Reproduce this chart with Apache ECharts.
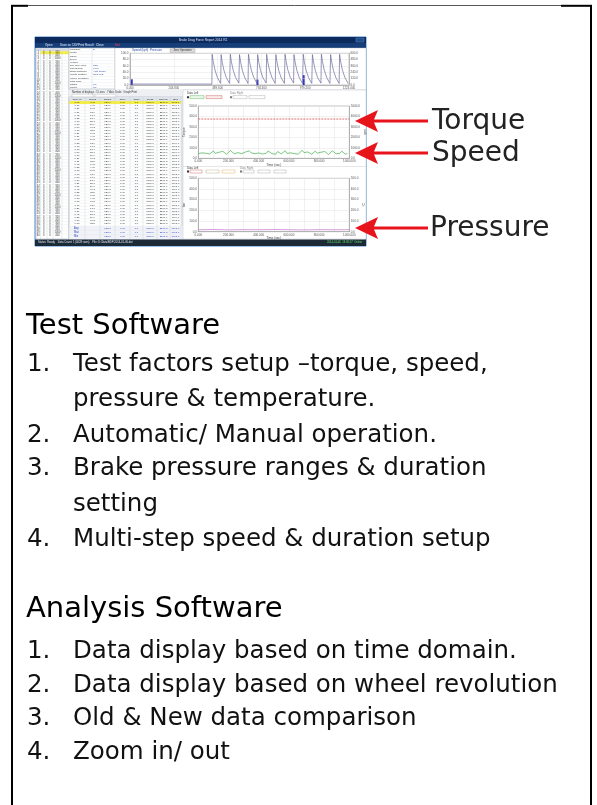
<!DOCTYPE html>
<html><head><meta charset="utf-8">
<script src="https://cdn.jsdelivr.net/npm/echarts@6/dist/echarts.min.js"></script>
<style>html,body{margin:0;padding:0;background:#fff}#c{width:597px;height:805px}</style>
</head><body><div id="c"></div>
<script>
// ---------------- DATA ----------------
// top mini chart: speed trace (sawtooth) [time %, value]
const sawTooth = [
[0,3],[37.4,3],
[37.5,97],[38.0,74],[38.8,47],[39.9,24],[41.4,5],
[41.6,96],[42.1,72],[42.9,46],[44.0,23],[45.5,5],
[45.8,97],[46.3,73],[47.1,47],[48.2,24],[49.7,6],
[50.0,96],[50.5,73],[51.3,46],[52.4,23],[53.9,5],
[54.1,97],[54.6,74],[55.4,47],[56.5,24],[58.0,5],
[58.3,96],[58.8,72],[59.6,46],[60.7,23],[62.2,6],
[62.4,97],[62.9,73],[63.7,47],[64.8,24],[66.3,5],
[66.6,96],[67.1,73],[67.9,46],[69.0,23],[70.5,5],
[70.8,97],[71.3,74],[72.1,47],[73.2,24],[74.7,6],
[74.9,96],[75.4,72],[76.2,46],[77.3,23],[78.8,5],
[79.1,97],[79.6,73],[80.4,47],[81.5,24],[83.0,5],
[83.3,96],[83.8,73],[84.6,46],[85.7,23],[87.2,6],
[87.4,97],[87.9,74],[88.7,47],[89.8,24],[91.3,5],
[91.6,96],[92.1,72],[92.9,46],[94.0,23],[95.5,5],
[95.7,97],[96.2,73],[97.0,47],[98.1,24],[99.6,5]
];
// top mini chart: pressure pulses [time %, value]
const pressureBars = [[0.8,18],[58.2,17],[79.3,31]];
// torque / speed chart (time 0..1000 s)
const torqueVals = [376,375,376,375,376,375,376,375,376,375,376];   // every 100 s
const speedVals = [45,38,52,33,48,60,41,54,70,47,36,58,43,66,52,39,50,75,56,43,
34,54,68,45,40,60,48,72,52,37,44,63,51,57,41,31,48,70,59,45,
53,39,64,50,42,57,73,47,35,52,67,44,56,40,48,77,54,43,61,46,
38,55,69,49,41,58,45,65,52,36,50,72,57,43,60,48,68,53,39,46];  // every 12.5 s
// pressure chart
const pressureVals = [18,20,17,19,18,20,18,17,19,18,19];            // every 100 s
// texts
const arrowLabels = ['Torque','Speed','Pressure'];
const heading1 = 'Test Software';
const heading2 = 'Analysis Software';
const list1 = [['1.','Test factors setup –torque, speed,'],['','pressure & temperature.'],['2.','Automatic/ Manual operation.'],['3.','Brake pressure ranges & duration'],['','setting'],['4.','Multi-step speed & duration setup']];
const list2 = [['1.','Data display based on time domain.'],['2.','Data display based on wheel revolution'],['3.','Old & New data comparison'],['4.','Zoom in/ out']];

// ---------------- GRAPHICS ----------------
const el = [];
function R(x,y,w,h,fill,stroke,lw,z){el.push({type:'rect',silent:true,z:z===undefined?-2:z,shape:{x:x,y:y,width:w,height:h},style:{fill:fill||'none',stroke:stroke||'none',lineWidth:lw||0}});}
function L(x1,y1,x2,y2,c,w,z){el.push({type:'line',silent:true,z:z===undefined?-1:z,shape:{x1:x1,y1:y1,x2:x2,y2:y2},style:{stroke:c,lineWidth:w}});}
function T(x,y,s,size,c,al,fam,z){el.push({type:'text',silent:true,z:z===undefined?-1:z,x:x,y:y,style:{text:s,fill:c,fontSize:size,fontFamily:fam||'Liberation Sans',textAlign:al||'left',textVerticalAlign:'middle',align:al||'left',verticalAlign:'middle'}});}

// outer page frame
L(12,5,12,805,'#000',2,5);
L(591,5,591,805,'#000',2,5);
L(11,5.8,28,5.8,'#000',2,5);
L(28,5.5,561,5.5,'#555',1,5);
L(561,5.8,592,5.8,'#000',2,5);

// window
R(35,37,331,209,'#f3f5f8','#4a8ad0',1,-3);
R(35,37,331,6,'#0c2a5c',null,0,-2);
T(203,40,'Brake Drag Force Report 2014 R2',3.2,'#d6e4ff','center');
R(356,38,8,4,'#1d4c8c','#6a9ad0',0.4,-1);
R(35,43,331,5,'#163f7a',null,0,-2);
[['Open',45],['Save as CSV',60],['Print Result',78],['Close',96]].forEach(m=>T(m[1],45.5,m[0],3,'#e8eefc'));
T(115,45.5,'Exit',3,'#e04040');

// left narrow table
R(36,48,33,191,'#ffffff','#9aa4b0',0.5,-2);
R(36,48,33,3,'#d6dce6',null,0,-2);
R(40.5,51.2,28.5,3,'#f4ee3a',null,0,-2);
const ltCols=[40.5,47,53,62];
ltCols.forEach(x=>L(x,48,x,239,'#c8ccd2',0.4));
const ltVals=['350','400','1000','350','400','350','400','300','400','350','1000','400'];
for(let i=0;i<60;i++){
  const y=51+i*3.1;
  L(36,y,69,y,'#dde0e4',0.3);
  const yc=y+1.55;
  T(38.2,yc,String(i+1),2.6,'#333','center');
  T(43.7,yc,'0',2.6,'#333','center');
  T(50,yc,'0',2.6,'#333','center');
  T(57.5,yc,ltVals[i%ltVals.length],2.6,'#333','center');
}

// info panel
R(69,48,46,41,'#ffffff','#9aa4b0',0.5,-2);
L(92,48,92,89,'#c8ccd2',0.4);
const infoL=['Schedule','Model','Name','Driver','Vehicle','Tire Size (mm)','Speed(kph)','Brake Distance','Mount Position','Wheel Condition','Start Time','Status','Count'];
const infoR=['B','','','','','32.5','0.0/0','Auto Single','Rear Left','','','0/0','0/0'];
for(let i=0;i<13;i++){const y=48+i*3.15;L(69,y,115,y,'#dde0e4',0.3);T(70,y+1.6,infoL[i],2.5,'#333');T(93,y+1.6,infoR[i],2.5,'#2a46a8');}

// top chart panel
R(115,48,251,42,'#ffffff','#b0b8c2',0.4,-2);
T(132,50.5,'Speed (kph)',3,'#2c4aa8');
T(150,50.5,'Pressure',3,'#2c4aa8');
R(170,48.8,25,3.6,'#dedede','#9a9a9a',0.4,-1);
T(182.5,50.6,'Zero Operation',2.7,'#333','center');

// middle bar
R(69,90,114,7,'#eef0f3',null,0,-2);
T(72,92.2,'Number of displays : 5 Lines   Y Axis Scale   Graph Print',2.6,'#333');
R(72,94.3,21,2.6,'#fff','#999',0.3,-1);
R(95,94.3,21,2.6,'#fff','#999',0.3,-1);

// big table
R(69,97,114,142,'#ffffff','#9aa4b0',0.5,-2);
R(69,97,114,4,'#dfe3ea',null,0,-2);
R(69,101,112,3.1,'#f6f03a',null,0,-2);
R(181,97,2,129,'#e4e6ea',null,0,-2);
R(69,226,114,13,'#f1f3f9',null,0,-2);
const btCols=[69,85,100,115,130,143,157,170,181];
btCols.forEach(x=>L(x,97,x,239,'#c8ccd2',0.4));
const btHead=['Time (s)','Speed','Torque','RPM','Temp','Press','Dist (m)','Stop','Force'];
for(let c=0;c<8;c++)T((btCols[c]+btCols[c+1])/2,99,btHead[c],2.5,'#222','center');
const bA=['0.00','0.10','0.21','0.31','0.42','0.52','0.63','0.73'];
const bB=['0.07','4.34','8.61','12.9','17.1','21.4','25.7','29.9','34.2','38.5'];
const bC=['126.6','127.1','126.9','127.4','126.8','127.0','127.3','126.7'];
const bG=['2240.8','2240.6','2240.9','2240.7','2240.8'];
const bH=['6093.7','6094.1','6093.5','6093.9','6094.0','6093.6'];
for(let r=0;r<40;r++){
  const y=101+r*3.1;L(69,y,181,y,'#dde0e4',0.3);
  const yc=y+1.55;
  const row=[bA[r%8],bB[r%10],bC[r%8],'0.00','0.0','7360.0',bG[r%5],bH[r%6]];
  for(let c=0;c<8;c++)T((btCols[c]+btCols[c+1])/2,yc,row[c],2.5,'#333','center');
}
['Avg','Max','Min'].forEach((s,i)=>{const yc=228+i*4;L(69,226+i*4.3,181,226+i*4.3,'#dde0e4',0.3);T(74,yc,s,2.6,'#2a46c0');
  ['','125.8','0.00','0.0','7360.0','2240.8','6093.7'].forEach((v,c)=>T((btCols[c+1]+btCols[c+2])/2,yc,v,2.5,'#2a46c0','center'));});

// right panel
R(183,90,183,149,'#ffffff','#b0b8c2',0.4,-2);
T(187,93.2,'Data Left',2.8,'#333');
R(187,96.2,2,2,'#333',null,0,-1);
R(190,95.6,14,3,'#eaf7ea','#48a848',0.4,-1);
R(206,95.6,16,3,'#fbeaea','#c84848',0.4,-1);
T(230,93.2,'Data Right',2.8,'#888');
R(230,96.2,2,2,'#777',null,0,-1);
R(233,95.6,14,3,'#fff','#999',0.4,-1);
R(249,95.6,16,3,'#fff','#999',0.4,-1);
L(183,166.5,366,166.5,'#c8ccd2',0.5);
T(187,168.2,'Data Left',2.8,'#333');
R(187,170.6,2,2,'#333',null,0,-1);
R(190,170,12,3,'#fff','#c84848',0.4,-1);
R(206,170,13,3,'#fff','#a8a070',0.4,-1);
R(222,170,13,3,'#fff','#e0a040',0.4,-1);
T(240,168.2,'Data Right',2.8,'#888');
R(240,170.6,2,2,'#777',null,0,-1);
R(243,170,11,3,'#fff','#999',0.4,-1);
R(258,170,12,3,'#fff','#999',0.4,-1);
R(274,170,12,3,'#fff','#999',0.4,-1);

// status bar
R(35,239.5,331,6.5,'#1c2a38',null,0,-1);
T(38,242.7,'Status: Ready    Data Count: 1 (4028 rows)    File: D:\\Data\\BDF\\2014-01-06.dat',2.7,'#e0e6ee');
T(362,242.7,'2014-01-06  13:36:57  Online',2.7,'#68e068','right');

// arrows + labels
const arrowY=[121,153,228];
arrowY.forEach((y,i)=>{
  el.push({type:'polygon',silent:true,z:10,shape:{points:[[355,y],[378,y-11],[374,y-1.6],[428,y-1.6],[428,y+1.6],[374,y+1.6],[378,y+11]]},style:{fill:'#e8141c'}});
  T(i==2?430:432,y+0.5,arrowLabels[i],28,'#222','left','DejaVu Sans',10);
});

// body text
T(26,326,heading1,29,'#000','left','DejaVu Sans',10);
const y1=[364.5,400,436,469,505,540];
list1.forEach((r,i)=>{T(27,y1[i],r[0],24.5,'#111','left','DejaVu Sans',10);T(73,y1[i],r[1],24.5,'#111','left','DejaVu Sans',10);});
T(26,609,heading2,29,'#000','left','DejaVu Sans',10);
const y2=[652,686,719,753];
list2.forEach((r,i)=>{T(27,y2[i],r[0],24.5,'#111','left','DejaVu Sans',10);T(73,y2[i],r[1],24.5,'#111','left','DejaVu Sans',10);});

// ---------------- CHART ----------------
const tiny={fontSize:3,color:'#555',fontFamily:'Liberation Sans',margin:1.5};
const split={show:true,lineStyle:{color:'#e3e3e3',width:0.5}};
const axl={show:true,lineStyle:{color:'#8a8a8a',width:0.5}};
function xa(g,max,iv,fmt,name){return {gridIndex:g,type:'value',min:0,max:max,interval:iv,z:3,axisLine:axl,axisTick:{show:false},splitLine:split,
  axisLabel:Object.assign({},tiny,{formatter:fmt}),name:name||'',nameLocation:'middle',nameGap:5,nameTextStyle:{fontSize:3.2,color:'#444'}};}
function ya(g,max,iv,pos,name,sp){return {gridIndex:g,type:'value',min:0,max:max,interval:iv,position:pos,z:3,axisLine:axl,axisTick:{show:false},
  splitLine:sp?split:{show:false},axisLabel:Object.assign({},tiny,{formatter:v=>v.toFixed(1)}),name:name||'',nameLocation:'middle',nameGap:pos=='left'?10:12,nameRotate:90,nameTextStyle:{fontSize:3.2,color:'#444'}};}

const chart=echarts.init(document.getElementById('c'),null,{renderer:'canvas'});
chart.setOption({
  animation:false,
  backgroundColor:'#ffffff',
  graphic:{elements:el},
  grid:[
    {left:130,top:53.3,width:219,height:31.7,show:true,borderColor:'#8a8a8a',borderWidth:0.5,backgroundColor:'#fff'},
    {left:198.3,top:106,width:151,height:52.3,show:true,borderColor:'#8a8a8a',borderWidth:0.5,backgroundColor:'#fff'},
    {left:198.3,top:178.3,width:151,height:53.4,show:true,borderColor:'#8a8a8a',borderWidth:0.5,backgroundColor:'#fff'}
  ],
  xAxis:[
    xa(0,100,20,v=>(v*12.24).toFixed(3)),
    xa(1,1000,100,v=>v%200===0?v.toFixed(3):'','Time (sec)'),
    xa(2,1000,100,v=>v%200===0?v.toFixed(3):'','Time (sec)')
  ],
  yAxis:[
    ya(0,100,20,'left','',true),
    ya(0,600,120,'right','',false),
    ya(1,500,100,'left','Torque',true),
    ya(1,5000,1000,'right','rpm',false),
    ya(2,500,100,'left','bar',true),
    ya(2,500,100,'right','°C',false)
  ],
  series:[
    {type:'line',xAxisIndex:0,yAxisIndex:0,data:sawTooth,symbol:'none',lineStyle:{color:'#6a6a9c',width:0.7}},
    {type:'bar',xAxisIndex:0,yAxisIndex:0,data:pressureBars,barWidth:2,itemStyle:{color:'#3535c4'}},
    {type:'line',xAxisIndex:1,yAxisIndex:2,data:torqueVals.map((v,i)=>[i*100,v]),symbol:'none',lineStyle:{color:'#d84848',width:0.8,type:[2,1]}},
    {type:'line',xAxisIndex:1,yAxisIndex:2,data:speedVals.map((v,i)=>[i*12.5,v]),symbol:'none',lineStyle:{color:'#3fb04a',width:0.7}},
    {type:'line',xAxisIndex:2,yAxisIndex:4,data:pressureVals.map((v,i)=>[i*100,v]),symbol:'none',lineStyle:{color:'#c070c8',width:0.7}}
  ]
});
</script></body></html>
